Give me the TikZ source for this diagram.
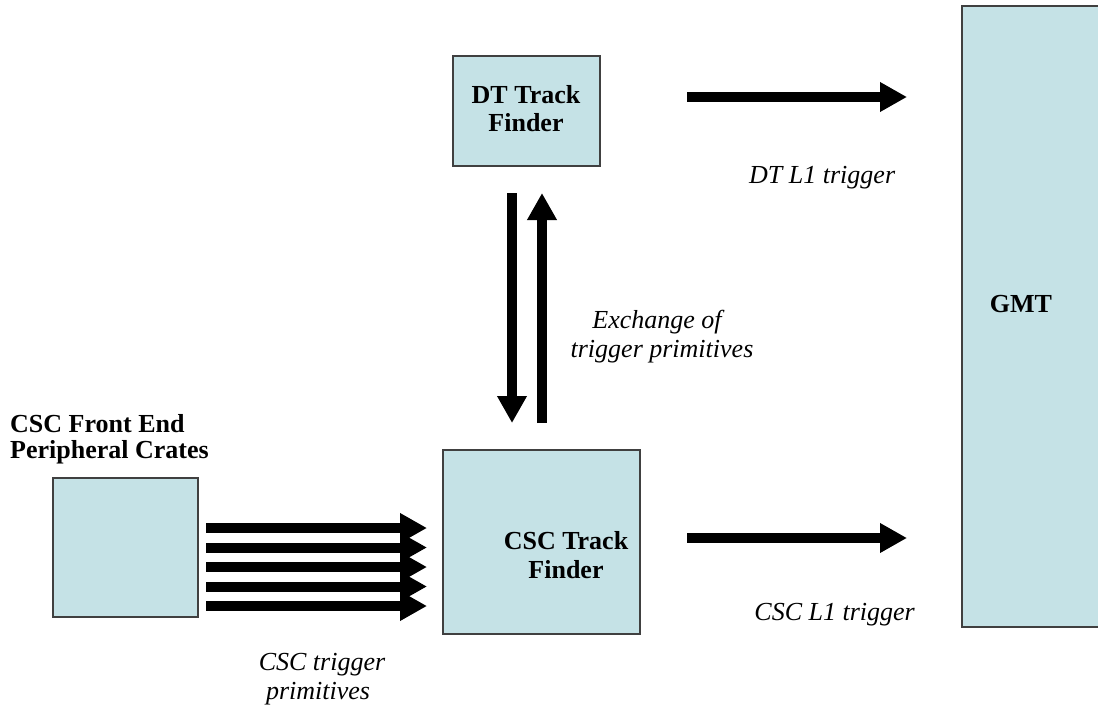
\documentclass[tikz,border=0pt]{standalone}
\usepackage{fontspec}
\setmainfont{Liberation Serif}
\usetikzlibrary{arrows.meta}
\definecolor{boxfill}{HTML}{C5E2E6}
\definecolor{boxline}{HTML}{404040}
\begin{document}
\begin{tikzpicture}[x=1pt,y=-1pt,
  box/.style={draw=boxline, fill=boxfill, line width=1.2pt, inner sep=0pt, outer sep=0pt, anchor=north west},
  lbl/.style={font=\fontsize{26}{29}\selectfont\bfseries, inner sep=0pt, anchor=base},
  note/.style={font=\fontsize{26}{29}\selectfont\itshape, inner sep=0pt, anchor=base},
  fat/.style={line width=10pt, -{Triangle[length=27pt,width=28pt]}}]
\useasboundingbox (0,0) rectangle (1098,709);
% boxes
\node[box, minimum width=147pt, minimum height=110pt] (dt) at (453,56) {};
\node[box, minimum width=197pt, minimum height=184pt] (csc) at (443,450) {};
\node[box, minimum width=145pt, minimum height=139pt] (fe) at (53,478) {};
\node[fill=boxfill, inner sep=0pt, outer sep=0pt, anchor=north west, minimum width=136pt, minimum height=621pt] (gmt) at (962,6) {};
\draw[boxline, line width=1.2pt] (gmt.north east) -- (gmt.north west) -- (gmt.south west) -- (gmt.south east);
% box labels
\node[lbl] (dt1) at (526,103) {DT Track};
\node[lbl] (dt2) at (526,131) {Finder};
\node[lbl] (cs1) at (566,549) {CSC Track};
\node[lbl] (cs2) at (566,578) {Finder};
\node[lbl, anchor=base west] (fe1) at (10,432) {CSC Front End};
\node[lbl, anchor=base west] (fe2) at (10,458) {Peripheral Crates};
\node[lbl] (gm) at (1021,312) {GMT};
% arrow end points
\coordinate (dtA) at (687,97);
\coordinate (dtB) at (907,97);
\coordinate (csA) at (687,538);
\coordinate (csB) at (907,538);
\coordinate (dnA) at (512,193);
\coordinate (dnB) at (512,423);
\coordinate (upA) at (542,423);
\coordinate (upB) at (542,193);
\draw[fat] (dtA) -- (dtB);
\draw[fat] (csA) -- (csB);
\draw[fat] (dnA) -- (dnB);
\draw[fat] (upA) -- (upB);
\foreach \i/\y in {1/528,2/547.5,3/567,4/586.5,5/606}{
  \coordinate (pa\i) at (206,\y);
  \coordinate (pb\i) at (427,\y);
  \draw[fat] (pa\i) -- (pb\i);
}
% notes
\node[note, anchor=base west] (n1) at (749,183) {DT L1 trigger};
\node[note, anchor=base east] (n2) at (915,620) {CSC L1 trigger};
\node[note] (n3) at (657,328) {Exchange of};
\node[note] (n4) at (662,357) {trigger primitives};
\node[note] (n5) at (322,670) {CSC trigger};
\node[note] (n6) at (318,699) {primitives};
\end{tikzpicture}
\end{document}
